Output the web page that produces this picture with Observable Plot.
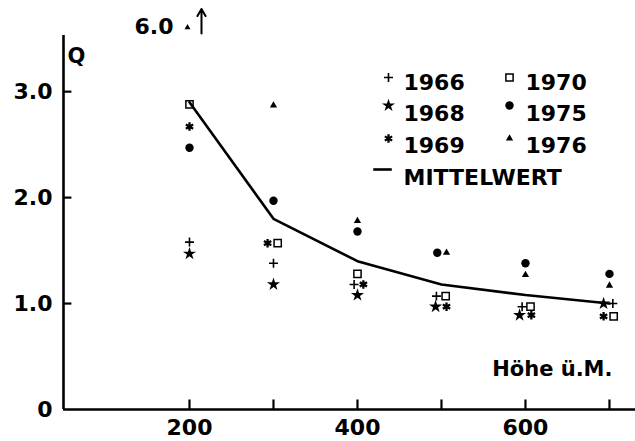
<!DOCTYPE html>
<html><head><meta charset="utf-8">
<script src="https://cdn.jsdelivr.net/npm/d3@7"></script>
<script src="https://cdn.jsdelivr.net/npm/@observablehq/plot@0.6"></script>
<style>
html,body{margin:0;padding:0;background:#fff;}
#chart svg{display:block;}
g[aria-label="x-labels"] text{letter-spacing:2px;}
g[aria-label="y-labels"] text{letter-spacing:1px;}
</style></head>
<body><div id="chart"></div>
<script>
// ---- data ----
const heights = [200, 300, 400, 500, 600, 700];
const mean    = [2.9, 1.8, 1.4, 1.18, 1.08, 1.0];

const x1966 = [200, 300, 396, 494, 596, 704];
const q1966 = [1.58, 1.38, 1.18, 1.07, 0.97, 1.0];
const x1968 = [200, 300, 400, 493, 593, 693];
const q1968 = [1.47, 1.18, 1.08, 0.97, 0.89, 1.0];
const x1969 = [200, 293, 407, 506, 607, 693];
const q1969 = [2.67, 1.57, 1.18, 0.97, 0.89, 0.88];
const x1970 = [200, 305, 400, 505, 606, 705];
const q1970 = [2.88, 1.57, 1.28, 1.07, 0.97, 0.88];
const x1975 = [200, 300, 400, 495, 600, 700];
const q1975 = [2.47, 1.97, 1.68, 1.48, 1.38, 1.28];
const x1976 = [200, 300, 400, 506, 600, 700];
const q1976 = [6.0, 2.87, 1.78, 1.48, 1.27, 1.17];

const years = ["1966", "1968", "1969", "1970", "1975", "1976"];
const legendCol1 = ["1966", "1968", "1969"];
const legendCol2 = ["1970", "1975", "1976"];
const meanLabel = "MITTELWERT";

const xTicks = [200, 300, 400, 500, 600, 700];
const xLabels = [200, 400, 600];
const yTicks = [1, 2, 3];
const yLabelValues = [0, 1, 2, 3];
const yLabelTexts = ["0", "1.0", "2.0", "3.0"];
const yTitle = "Q";
const xTitle = "Höhe ü.M.";

// ---- build tables ----
const xsByYear = {"1966": x1966, "1968": x1968, "1969": x1969, "1970": x1970, "1975": x1975, "1976": x1976};
const qsByYear = {"1966": q1966, "1968": q1968, "1969": q1969, "1970": q1970, "1975": q1975, "1976": q1976};
const rows = year => xsByYear[year].map((x, i) => ({x, h: heights[i], q: qsByYear[year][i], year}));
const meanRows = heights.map((h, i) => ({h, q: mean[i]}));

const YMAX = 3.53;
const FONT = "DejaVu Sans";

const styleOf = {
  "1966": {symbol: "plus", r: 3.0, fill: "none", stroke: "black", strokeWidth: 1.6},
  "1968": {symbol: "star", r: 4.1, fill: "black", stroke: "none"},
  "1969": {symbol: "asterisk", r: 4.0, fill: "none", stroke: "black", strokeWidth: 2.3},
  "1970": {symbol: "square2", r: 4.6, fill: "none", stroke: "black", strokeWidth: 1.5},
  "1975": {symbol: "circle", r: 4.2, fill: "black", stroke: "none"},
  "1976": {symbol: "triangle", r: 2.7, fill: "black", stroke: "none"}
};
const dashSymbol = {draw(ctx, size) { const r = Math.sqrt(size) * 0.55; ctx.moveTo(-r, 0); ctx.lineTo(r, 0); }};

const textStyle = {fontFamily: FONT, fontWeight: "bold", fill: "black"};

const offscale = years.flatMap(rows).filter(d => d.q > YMAX);

// legend marks
const legendMarks = [];
const colSym = [325, 446], colText = [340, 462];
const rowText = [39, 70, 102], rowSym = [42, 70, 103];
[legendCol1, legendCol2].forEach((col, c) => col.forEach((yr, r) => {
  legendMarks.push(Plot.dot([yr], {frameAnchor: "top-left", dx: colSym[c], dy: rowSym[r], ...styleOf[yr]}));
  legendMarks.push(Plot.text([yr], {frameAnchor: "top-left", dx: colText[c], dy: rowText[r], text: d => d, textAnchor: "start", fontSize: 22, ...textStyle}));
}));
legendMarks.push(Plot.dot([meanLabel], {frameAnchor: "top-left", dx: 319, dy: 134, symbol: dashSymbol, r: 9.5, stroke: "black", strokeWidth: 2.6, fill: "none"}));
legendMarks.push(Plot.text([meanLabel], {frameAnchor: "top-left", dx: 340, dy: 134, text: d => d, textAnchor: "start", fontSize: 22, ...textStyle}));

const chart = Plot.plot({
  width: 635, height: 441,
  marginLeft: 63, marginRight: 0, marginTop: 35, marginBottom: 32,
  x: {domain: [50, 731], axis: null},
  y: {domain: [0, YMAX], axis: null},
  style: {background: "white", color: "black"},
  marks: [
    Plot.ruleX([50], {strokeWidth: 2.6}),
    Plot.ruleY([0], {strokeWidth: 2.6}),
    Plot.ruleX(xTicks, {x: d => d, y1: () => 0, y2: () => 0.09, strokeWidth: 2.2}),
    Plot.ruleY(yTicks, {y: d => d, x1: () => 50, x2: () => 60, strokeWidth: 2.2}),
    Plot.text(yLabelValues, {x: () => 50, y: d => d, dx: -11, text: (d, i) => yLabelTexts[i], textAnchor: "end", fontSize: 22, ariaLabel: "y-labels", ...textStyle}),
    Plot.text(xLabels, {x: d => d, y: () => 0, dy: 18, text: d => String(d), fontSize: 22, ariaLabel: "x-labels", ...textStyle}),
    Plot.text([yTitle], {frameAnchor: "top-left", dx: 4, dy: 13, text: d => d, textAnchor: "start", fontSize: 21, ...textStyle}),
    Plot.text([xTitle], {frameAnchor: "bottom-right", dx: -23, dy: -34, text: d => d, textAnchor: "end", fontSize: 21, ...textStyle}),
    Plot.line(meanRows, {x: "h", y: "q", strokeWidth: 2.6, stroke: "black"}),
    ...years.map(yr => Plot.dot(rows(yr), {x: "x", y: "q", filter: d => d.q <= YMAX, ...styleOf[yr]})),
    // off-scale value annotation
    Plot.dot(offscale, {x: "x", y: () => YMAX, dx: -2, dy: -8, ...styleOf["1976"], r: 2.2}),
    Plot.text(offscale, {x: "x", y: () => YMAX, dx: -16, dy: -9, text: d => d.q.toFixed(1), textAnchor: "end", fontSize: 22, ...textStyle}),
    Plot.arrow(offscale, {x1: "x", x2: "x", y1: () => YMAX + 0.02, y2: () => YMAX + 0.25, dx: 12, headLength: 7, strokeWidth: 2, stroke: "black"}),
    ...legendMarks
  ]
});
document.getElementById("chart").appendChild(chart);
</script>
</body></html>
